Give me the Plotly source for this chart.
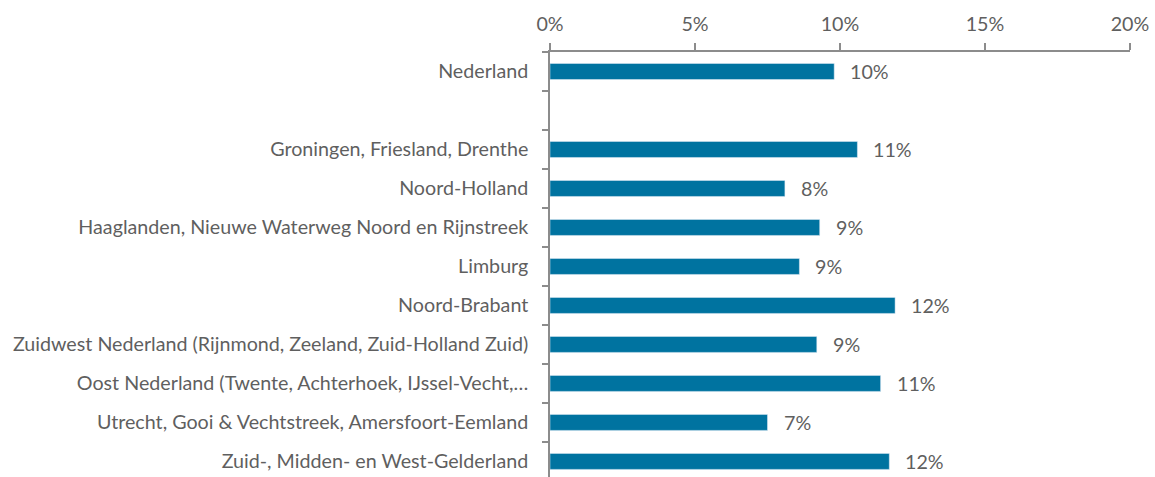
import plotly.graph_objects as go

# Data (share, as fraction)
regions = [
    "Nederland",
    " ",
    "Groningen, Friesland, Drenthe",
    "Noord-Holland",
    "Haaglanden, Nieuwe Waterweg Noord en Rijnstreek",
    "Limburg",
    "Noord-Brabant",
    "Zuidwest Nederland (Rijnmond, Zeeland, Zuid-Holland Zuid)",
    "Oost Nederland (Twente, Achterhoek, IJssel-Vecht,…",
    "Utrecht, Gooi & Vechtstreek, Amersfoort-Eemland",
    "Zuid-, Midden- en West-Gelderland",
]
shares = [0.098, None, 0.106, 0.081, 0.093, 0.086, 0.119, 0.092, 0.114, 0.075, 0.117]
labels = ["10%", "", "11%", "8%", "9%", "9%", "12%", "9%", "11%", "7%", "12%"]

x_ticks = [0, 0.05, 0.10, 0.15, 0.20]

BAR = "#0073a0"
TXT = "#5f5f5f"
AXIS = "#8c8c8c"
FONT = "Lato"
FS = 19.7

fig = go.Figure()

fig.add_trace(go.Bar(
    y=regions,
    x=shares,
    orientation="h",
    marker_color=BAR,
    width=0.41,
    hoverinfo="skip",
))

# value labels just right of each bar
for reg, val, lab in zip(regions, shares, labels):
    if val is None:
        continue
    fig.add_annotation(
        x=val, y=reg, text=lab,
        xanchor="left", yanchor="middle",
        xshift=14, showarrow=False,
        font=dict(family=FONT, size=FS, color=TXT),
    )

fig.update_layout(
    width=1155,
    height=477,
    margin=dict(l=550, r=25, t=52, b=0),
    paper_bgcolor="white",
    plot_bgcolor="white",
    showlegend=False,
    font=dict(family=FONT, size=FS, color=TXT),
    xaxis=dict(
        side="top",
        range=[0, 0.2],
        tickvals=x_ticks,
        tickformat=".0%",
        showgrid=False,
        zeroline=False,
        showline=True,
        linecolor=AXIS,
        linewidth=1.5,
        ticks="outside",
        ticklen=7,
        tickcolor=AXIS,
        tickwidth=1.5,
        ticklabelstandoff=4,
        tickfont=dict(family=FONT, size=FS, color=TXT),
    ),
    yaxis=dict(
        type="category",
        categoryorder="array",
        categoryarray=regions,
        range=[10.4, -0.5],
        showgrid=False,
        zeroline=False,
        showline=True,
        linecolor=AXIS,
        linewidth=1.5,
        ticks="outside",
        tickson="boundaries",
        ticklen=6,
        tickcolor=AXIS,
        tickwidth=1.5,
        ticklabelstandoff=16,
        tickfont=dict(family=FONT, size=FS, color=TXT),
    ),
)

# drop the browser's default 8px body margin so the figure sits at the page corner
fig.write_html(
    "out.html",
    config={"displayModeBar": False},
    post_script="document.body.style.margin='0';",
)
